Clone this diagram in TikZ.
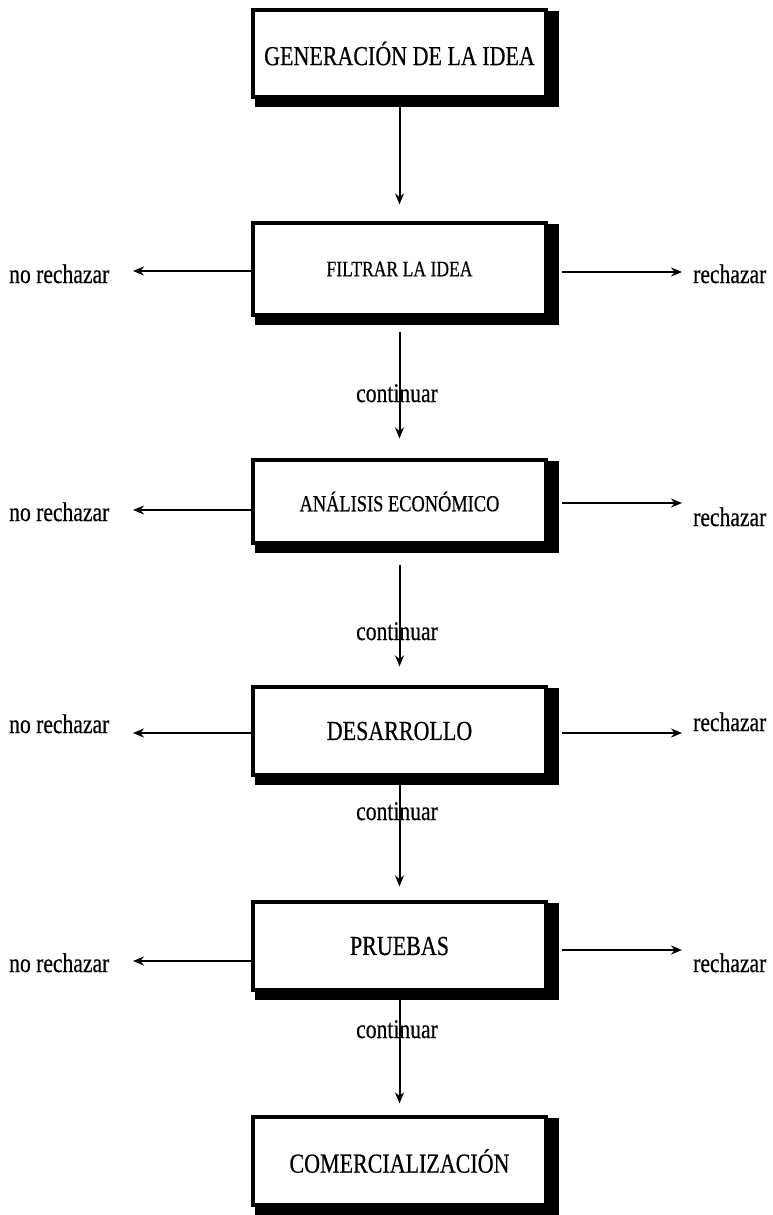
\documentclass[tikz,border=0pt]{standalone}
\usepackage{fontspec}
\setmainfont{Liberation Serif}[FakeStretch=0.8,FakeBold=0.5]
\usetikzlibrary{arrows.meta,backgrounds}
\begin{document}
\begin{tikzpicture}[x=1pt,y=-1pt,
  box/.style={draw,line width=3.2pt,fill=white,minimum width=293pt,inner sep=0pt,anchor=center},
  arr/.style={line width=2pt,-{Stealth[length=11pt,width=9pt]}},
  lbl/.style={inner sep=0pt,font=\fontsize{27}{32}\selectfont},
  bigtxt/.style={font=\fontsize{27.5}{32}\selectfont},
  smalltxt/.style={font=\fontsize{22}{26}\selectfont},
  midtxt/.style={font=\fontsize{23}{27}\selectfont}
]
\useasboundingbox (0,0) rectangle (772,1215);

% boxes
\node[box,bigtxt,minimum height=87pt] (b1) at (399.5,53.5) {GENERACIÓN DE LA IDEA};
\node[box,smalltxt,minimum height=92pt] (b2) at (399.5,269) {FILTRAR LA IDEA};
\node[box,midtxt,minimum height=83pt] (b3) at (399.5,501.5) {ANÁLISIS ECONÓMICO};
\node[box,bigtxt,minimum height=88pt] (b4) at (399.5,731) {DESARROLLO};
\node[box,bigtxt,minimum height=88pt] (b5) at (399.5,946) {PRUEBAS};
\node[box,bigtxt,minimum height=88pt] (b6) at (399.5,1161) {COMERCIALIZACIÓN};

\begin{scope}[on background layer]
  \foreach \b in {b1,b2,b3,b4,b5,b6}
    \fill[black] ([shift={(4,3)}]\b.north west) rectangle ([shift={(11,8)}]\b.south east);
\end{scope}

% vertical arrows
\draw[arr] ([yshift=-8pt]b1.south) -- ([yshift=17pt]b2.north);
\draw[arr] ([yshift=-15pt]b2.south) -- ([yshift=20pt]b3.north);
\draw[arr] ([yshift=-20pt]b3.south) -- ([yshift=19pt]b4.north);
\draw[arr] ([yshift=-8pt]b4.south) -- ([yshift=14pt]b5.north);
\draw[arr] ([yshift=-8pt]b5.south) -- ([yshift=12pt]b6.north);

% continuar labels
\node[lbl,anchor=base] (c2) at (397,402) {continuar};
\node[lbl,anchor=base] (c3) at (397,640) {continuar};
\node[lbl,anchor=base] (c4) at (397,820) {continuar};
\node[lbl,anchor=base] (c5) at (397,1038) {continuar};

% side texts
\node[lbl,anchor=base west] (n2) at (9,283) {no rechazar};
\node[lbl,anchor=base west] (n3) at (9,521) {no rechazar};
\node[lbl,anchor=base west] (n4) at (9,733) {no rechazar};
\node[lbl,anchor=base west] (n5) at (9,972) {no rechazar};
\node[lbl,anchor=base west] (r2) at (693,283) {rechazar};
\node[lbl,anchor=base west] (r3) at (693,526) {rechazar};
\node[lbl,anchor=base west] (r4) at (693,731) {rechazar};
\node[lbl,anchor=base west] (r5) at (693,972) {rechazar};

% arrow end points
\coordinate (l2) at (133,271);
\coordinate (l3) at (133,510);
\coordinate (l4) at (133,733);
\coordinate (l5) at (133,961);
\coordinate (q2) at (682,272);
\coordinate (q3) at (682,503);
\coordinate (q4) at (682,733);
\coordinate (q5) at (682,950);

% side arrows
\foreach \i in {2,3,4,5}{
  \draw[arr] (b\i.west |- l\i) -- (l\i);
  \draw[arr] (b\i.east |- q\i) ++(14,0) -- (q\i);
}
\end{tikzpicture}
\end{document}
